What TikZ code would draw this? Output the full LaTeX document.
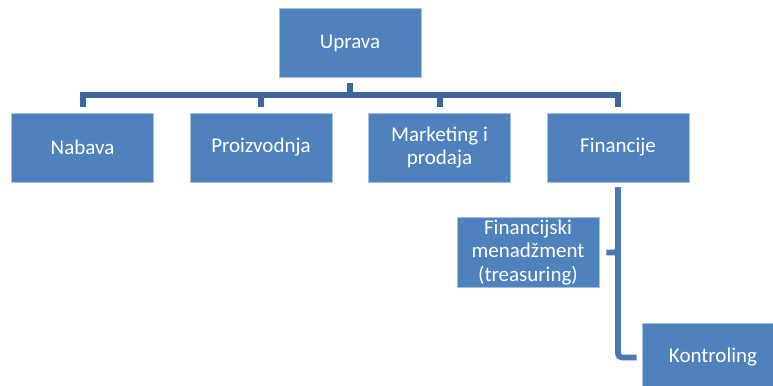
\documentclass[tikz,border=0pt]{standalone}
\usepackage{fontspec}
\setmainfont{Carlito}
\definecolor{org_fill}{RGB}{79, 129, 189}
\definecolor{org_edge}{RGB}{167, 191, 222}
\definecolor{org_dark}{RGB}{62, 102, 152}
\definecolor{org_line}{RGB}{74, 120, 176}
\usetikzlibrary{positioning, calc}

\begin{document}
\begin{tikzpicture}[
        x=0.75pt, y=-0.75pt,
        unit/.style={rectangle, draw=org_edge, line width=0.6pt, fill=org_fill,
                     minimum width=106.5pt, minimum height=51.75pt, inner sep=2pt,
                     text=white, align=center, font=\fontsize{15.75}{17.5}\selectfont},
        bus/.style={line width=4.5pt, color=org_dark},
        sub/.style={line width=4.3pt, color=org_line, rounded corners=3pt},
      ]
        \clip (0,0) rectangle (773,385);
        \fill[white] (0,0) rectangle (773,385);

        \node[unit] (uprava)      at (350,   43)    {Uprava};
        \node[unit] (nabava)      at (82.5,  147.5) {Nabava};
        \node[unit] (proizvodnja) at (261,   147.5) {Proizvodnja};
        \node[unit] (marketing)   at (439.5, 147.5) {Marketing i\\prodaja};
        \node[unit] (financije)   at (618,   147.5) {Financije};
        \node[unit] (menadzment)  at (528,   252.5) {Financijski\\menadžment\\(treasuring)};
        \node[unit] (kontroling)  at (713,   357.5) {Kontroling};

        \coordinate (bar) at (350, 95);

        \draw[bus, shorten <=3.75pt] (uprava.south) -- (bar);
        \draw[bus, shorten >=4.5pt] (bar) -| (nabava.north);
        \draw[bus, shorten >=4.5pt] (bar) -| (proizvodnja.north);
        \draw[bus, shorten >=4.5pt] (bar) -| (marketing.north);
        \draw[bus, shorten >=4.5pt] (bar) -| (financije.north);

        \draw[sub, shorten <=3.75pt, shorten >=5.25pt] (financije.south) |- (menadzment.east);
        \draw[sub, shorten <=3.75pt, shorten >=3.75pt] (financije.south) |- (kontroling.west);
      \end{tikzpicture}
\end{document}
